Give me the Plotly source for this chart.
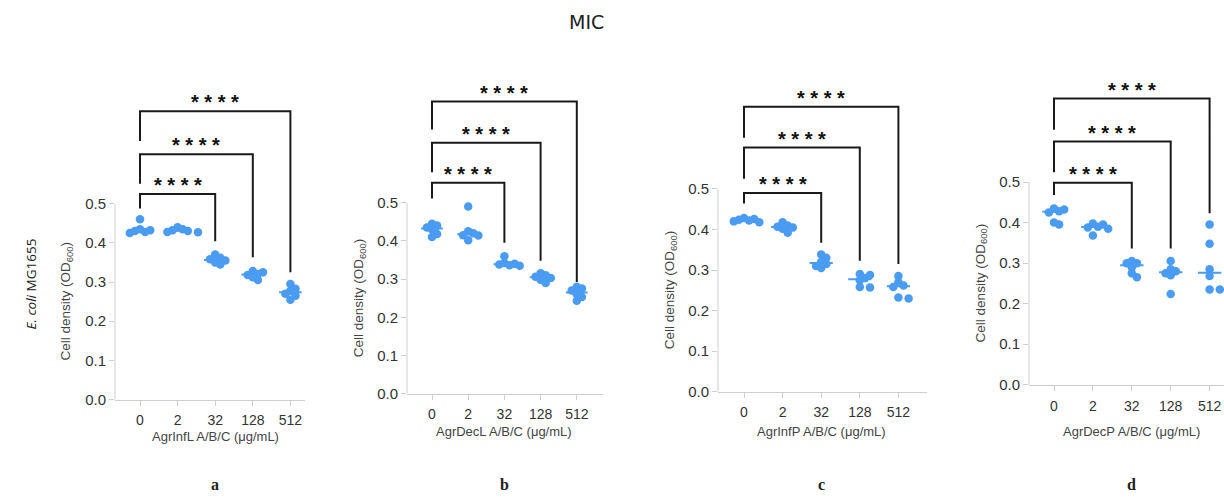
import plotly.graph_objects as go
import numpy as np

W, H = 1224, 501

# ---------------- data ----------------
concentrations = ["0", "2", "32", "128", "512"]
panel_letters = ["a", "b", "c", "d"]
x_titles = ["AgrInfL A/B/C (μg/mL)", "AgrDecL A/B/C (μg/mL)",
            "AgrInfP A/B/C (μg/mL)", "AgrDecP A/B/C (μg/mL)"]

agrinfl = [
    [0.46, 0.435, 0.432, 0.428, 0.425, 0.43],
    [0.44, 0.435, 0.432, 0.43, 0.428, 0.427],
    [0.37, 0.362, 0.358, 0.355, 0.35, 0.345],
    [0.328, 0.325, 0.32, 0.318, 0.312, 0.305],
    [0.295, 0.283, 0.278, 0.27, 0.265, 0.255],
]
agrdecl = [
    [0.445, 0.44, 0.435, 0.43, 0.418, 0.41],
    [0.49, 0.425, 0.42, 0.415, 0.414, 0.402],
    [0.36, 0.342, 0.34, 0.338, 0.336, 0.335],
    [0.315, 0.31, 0.306, 0.303, 0.298, 0.29],
    [0.28, 0.275, 0.27, 0.26, 0.253, 0.243],
]
agrinfp = [
    [0.428, 0.426, 0.424, 0.422, 0.42, 0.418],
    [0.418, 0.41, 0.407, 0.405, 0.402, 0.392],
    [0.338, 0.33, 0.32, 0.315, 0.31, 0.305],
    [0.29, 0.288, 0.28, 0.275, 0.258, 0.257],
    [0.285, 0.27, 0.262, 0.258, 0.232, 0.23],
]
agrdecp = [
    [0.435, 0.432, 0.428, 0.425, 0.4, 0.395],
    [0.398, 0.395, 0.39, 0.388, 0.385, 0.368],
    [0.305, 0.3, 0.3, 0.29, 0.275, 0.265],
    [0.305, 0.285, 0.28, 0.275, 0.27, 0.224],
    [0.395, 0.348, 0.285, 0.268, 0.235, 0.235],
]
panels_data = [agrinfl, agrdecl, agrinfp, agrdecp]

significance = "* * * *"
comparisons = [2, 3, 4]  # group indices compared against 0

# bracket geometry (data units): level, left-leg bottom, right-leg bottom
bracket_levels = [[0.525, 0.626, 0.736], [0.552, 0.657, 0.765],
                  [0.49, 0.602, 0.703], [0.498, 0.60, 0.706]]
bracket_left = [[0.488, 0.551, 0.66], [0.511, 0.58, 0.692],
                [0.464, 0.525, 0.626], [0.468, 0.524, 0.629]]
bracket_right = [[0.404, 0.363, 0.325], [0.395, 0.348, 0.292],
                 [0.367, 0.323, 0.315], [0.336, 0.336, 0.423]]

# ---------------- layout geometry (pixels) ----------------
geo = [
    dict(x0=140, dx=37.6, xl=115, xr=305, y0=406, py=398, ty=444),
    dict(x0=432, dx=36.2, xl=407, xr=603, y0=400, py=388, ty=439),
    dict(x0=744, dx=38.6, xl=718, xr=927, y0=398, py=412, ty=439),
    dict(x0=1054, dx=38.9, xl=1029, xr=1224, y0=391, py=412, ty=438),
]
YTOP = 70
DOT_COLOR = "#4A9BF2"
AXIS_COLOR = "#CFCFCF"
DOT_D = 8.5


def beeswarm(values, py, dxpx):
    order = np.argsort(values)[::-1]
    placed = []
    offs = [0.0] * len(values)
    step = DOT_D * 0.6
    mind = DOT_D * 0.62
    for i in order:
        yv = values[i] * py
        k_list = [0]
        for k in range(1, 12):
            k_list += [k, -k]
        best = None
        for k in k_list:
            xo = k * step
            ok = True
            for (px, pyv) in placed:
                if (px - xo) ** 2 + (pyv - yv) ** 2 < mind ** 2:
                    ok = False
                    break
            if ok:
                best = xo
                break
        if best is None:
            best = 0.0
        placed.append((best, yv))
        offs[i] = best / dxpx
    return offs


fig = go.Figure()
annotations = []
shapes = []

for p, data in enumerate(panels_data):
    g = geo[p]
    n = "" if p == 0 else str(p + 1)
    xa, ya = "x" + n, "y" + n
    xs, ys = [], []
    for gi, vals in enumerate(data):
        offs = beeswarm(vals, g["py"], g["dx"])
        xs += [gi + o for o in offs]
        ys += vals
    for gi, vals in enumerate(data):
        med = float(np.median(vals))
        fig.add_trace(go.Scatter(x=[gi - 0.3, gi + 0.3], y=[med, med], mode="lines",
                                 line=dict(color=DOT_COLOR, width=2), xaxis=xa, yaxis=ya,
                                 showlegend=False, hoverinfo="skip"))
    fig.add_trace(go.Scatter(x=xs, y=ys, mode="markers",
                             marker=dict(color=DOT_COLOR, size=DOT_D, line=dict(width=0)),
                             xaxis=xa, yaxis=ya, showlegend=False, cliponaxis=False))
    for bi, k in enumerate(comparisons):
        lv = bracket_levels[p][bi]
        fig.add_trace(go.Scatter(x=[0, 0, k, k],
                                 y=[bracket_left[p][bi], lv, lv, bracket_right[p][bi]],
                                 mode="lines", line=dict(color="#1a1a1a", width=2),
                                 xaxis=xa, yaxis=ya, showlegend=False, hoverinfo="skip"))
        annotations.append(dict(x=k / 2, y=lv, xref=xa, yref=ya, text="<b>" + significance + "</b>",
                                showarrow=False, yanchor="middle", yshift=9,
                                font=dict(family="Liberation Sans", size=20, color="#111")))
    xdom = [g["xl"] / W, g["xr"] / W]
    ydom = [(H - g["y0"]) / H, (H - YTOP) / H]
    xr = [(g["xl"] - g["x0"]) / g["dx"], (g["xr"] - g["x0"]) / g["dx"]]
    yr = [0, (g["y0"] - YTOP) / g["py"]]
    fig.layout["xaxis" + n] = dict(domain=xdom, range=xr, anchor=ya,
                                   tickvals=list(range(5)), ticktext=concentrations,
                                   showline=True, linecolor=AXIS_COLOR, linewidth=1,
                                   ticks="outside", ticklen=5, tickcolor=AXIS_COLOR,
                                   ticklabelstandoff=3,
                                   showgrid=False, zeroline=False,
                                   tickfont=dict(family="Liberation Sans", size=14, color="#333"))
    fig.layout["yaxis" + n] = dict(domain=ydom, range=yr, anchor=xa,
                                   tickvals=[0, 0.1, 0.2, 0.3, 0.4, 0.5],
                                   ticktext=["0.0", "0.1", "0.2", "0.3", "0.4", "0.5"],
                                   showline=False, ticks="outside", ticklen=5,
                                   tickcolor=AXIS_COLOR, showgrid=False, zeroline=False,
                                   tickfont=dict(family="Liberation Sans", size=15, color="#333"))
    shapes.append(dict(type="line", xref=xa + " domain", x0=0, x1=0, yref=ya, y0=0, y1=0.5,
                       line=dict(color=AXIS_COLOR, width=1)))
    annotations.append(dict(x=(g["x0"] + 2 * g["dx"]) / W, y=(H - g["ty"]) / H,
                            xref="paper", yref="paper", text=x_titles[p], showarrow=False,
                            xanchor="center", yanchor="middle",
                            font=dict(family="Liberation Sans", size=13, color="#444")))
    annotations.append(dict(x=(g["xl"] - 48) / W, y=(H - (g["y0"] - 0.25 * g["py"])) / H,
                            xref="paper", yref="paper",
                            text="Cell density (OD<sub>600</sub>)", showarrow=False,
                            textangle=-90, xanchor="center", yanchor="middle",
                            font=dict(family="Liberation Sans", size=13.5, color="#444")))
    annotations.append(dict(x=(g["x0"] + 2 * g["dx"]) / W, y=(H - 492) / H,
                            xref="paper", yref="paper", text="<b>" + panel_letters[p] + "</b>",
                            showarrow=False, xanchor="center", yanchor="middle",
                            font=dict(family="Liberation Serif", size=16, color="#222")))

annotations.append(dict(x=586 / W, y=(H - 22) / H, xref="paper", yref="paper", text="MIC",
                        showarrow=False, xanchor="center", yanchor="middle",
                        font=dict(family="DejaVu Sans", size=19, color="#222")))
annotations.append(dict(x=31 / W, y=(H - 289) / H, xref="paper", yref="paper",
                        text="<i>E. coli</i> MG1655", showarrow=False, textangle=-90,
                        xanchor="center", yanchor="middle",
                        font=dict(family="Open Sans", size=13.5, color="#222")))

fig.update_layout(width=W, height=H, margin=dict(l=0, r=0, t=0, b=0), autosize=False,
                  paper_bgcolor="white", plot_bgcolor="white",
                  annotations=annotations, shapes=shapes, showlegend=False)

fig.write_html("out.html",
               config=dict(displayModeBar=False, responsive=False),
               post_script="document.body.style.margin='0';document.documentElement.style.overflow='hidden';")
